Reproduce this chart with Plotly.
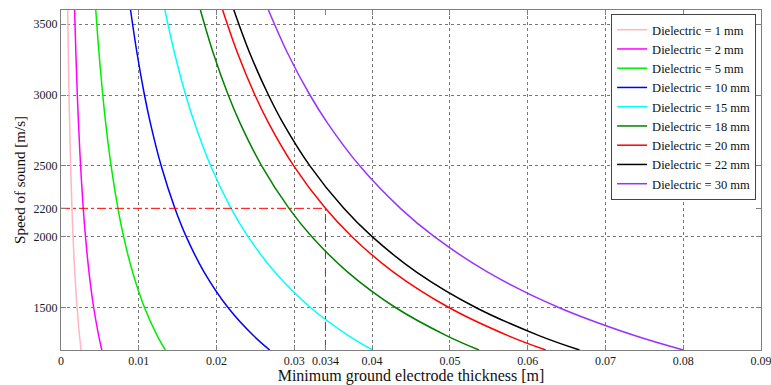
import plotly.graph_objects as go

speed = [1200, 1300, 1500, 1750, 2000, 2200, 2500, 2800, 3000, 3300, 3600]

labels = ["Dielectric = 1 mm", "Dielectric = 2 mm", "Dielectric = 5 mm",
          "Dielectric = 10 mm", "Dielectric = 15 mm", "Dielectric = 18 mm",
          "Dielectric = 20 mm", "Dielectric = 22 mm", "Dielectric = 30 mm"]

d1 = [0.00258, 0.00238, 0.00207, 0.00177, 0.00155, 0.00141, 0.00124, 0.00111, 0.00103, 0.00094, 0.00086]
d2 = [0.00525, 0.00485, 0.00420, 0.00360, 0.00315, 0.00286, 0.00252, 0.00225, 0.00210, 0.00191, 0.00175]
d5 = [0.01342, 0.01238, 0.01073, 0.00920, 0.00805, 0.00732, 0.00644, 0.00575, 0.00537, 0.00488, 0.00447]
d10 = [0.02683, 0.02477, 0.02147, 0.01840, 0.01610, 0.01464, 0.01288, 0.01150, 0.01073, 0.00976, 0.00894]
d15 = [0.04008, 0.03700, 0.03207, 0.02749, 0.02405, 0.02186, 0.01924, 0.01718, 0.01603, 0.01458, 0.01336]
d18 = [0.05375, 0.04962, 0.04300, 0.03686, 0.03225, 0.02932, 0.02580, 0.02304, 0.02150, 0.01955, 0.01792]
d20 = [0.06233, 0.05754, 0.04987, 0.04274, 0.03740, 0.03400, 0.02992, 0.02671, 0.02493, 0.02267, 0.02078]
d22 = [0.06667, 0.06154, 0.05333, 0.04571, 0.04000, 0.03636, 0.03200, 0.02857, 0.02667, 0.02424, 0.02222]
d30 = [0.08000, 0.07385, 0.06400, 0.05486, 0.04800, 0.04364, 0.03840, 0.03429, 0.03200, 0.02909, 0.02667]

series = [d1, d2, d5, d10, d15, d18, d20, d22, d30]
colors = ["#FFB6C1", "#FF00FF", "#00EE00", "#0000FF", "#00FFFF", "#008000",
          "#FF0000", "#000000", "#9933FF"]

# Highlighted operating point
mark_x = 0.034
mark_y = 2200

x_ticks = [0, 0.01, 0.02, 0.03, 0.034, 0.04, 0.05, 0.06, 0.07, 0.08, 0.09]
x_ticktext = ["0", "0.01", "0.02", "0.03", "0.034", "0.04", "0.05", "0.06", "0.07", "0.08", "0.09"]
x_grid = [0.01, 0.02, 0.03, 0.04, 0.05, 0.06, 0.07, 0.08]
y_ticks = [1500, 2000, 2200, 2500, 3000, 3500]
y_grid = [1500, 2000, 2500, 3000, 3500]
x_range = [0, 0.09]
y_range = [1200, 3600]

fig = go.Figure()
for name, xs, c in zip(labels, series, colors):
    fig.add_trace(go.Scatter(x=xs, y=speed, mode="lines", name=name,
                             line=dict(color=c, width=1.5, shape="spline")))

fig.add_trace(go.Scatter(x=[x_range[0], mark_x, mark_x], y=[mark_y, mark_y, y_range[0]],
                         mode="lines", showlegend=False,
                         line=dict(color="#FF0000", width=1, dash="dashdot")))

axis_common = dict(showline=True, linecolor="#7f7f7f", linewidth=1, mirror="ticks",
                   ticks="inside", ticklen=5, tickcolor="#7f7f7f", showgrid=False,
                   zeroline=False, automargin=False, ticklabeloverflow="allow",
                   tickfont=dict(family="Liberation Serif", size=12, color="#1a1a1a"))

fig.update_xaxes(range=x_range, tickmode="array", tickvals=x_ticks, ticktext=x_ticktext,
                 minor=dict(tickmode="array", tickvals=x_grid, showgrid=True,
                            gridcolor="#777777", griddash="dot", gridwidth=1,
                            ticks="inside", ticklen=5, tickcolor="#7f7f7f"),
                 title=dict(text="Minimum ground electrode thickness [m]", standoff=3,
                            font=dict(family="Liberation Serif", size=16, color="#111")),
                 **axis_common)
fig.update_yaxes(range=y_range, tickmode="array", tickvals=y_ticks,
                 minor=dict(tickmode="array", tickvals=y_grid, showgrid=True,
                            gridcolor="#777777", griddash="dot", gridwidth=1,
                            ticks="inside", ticklen=5, tickcolor="#7f7f7f"),
                 title=dict(text="Speed of sound [m/s]", standoff=4,
                            font=dict(family="Liberation Serif", size=15, color="#111")),
                 **axis_common)

fig.update_layout(
    width=771, height=385,
    margin=dict(l=61, r=10, t=10, b=35),
    plot_bgcolor="white", paper_bgcolor="white",
    legend=dict(x=0.993, y=0.988, xanchor="right", yanchor="top",
                bgcolor="white", bordercolor="#444", borderwidth=1,
                font=dict(family="Liberation Serif", size=12.5, color="#111"),
                tracegroupgap=0),
)

fig.write_html("out.html", config={"displayModeBar": False},
               post_script="document.body.style.margin='0';document.body.style.overflow='hidden';")
